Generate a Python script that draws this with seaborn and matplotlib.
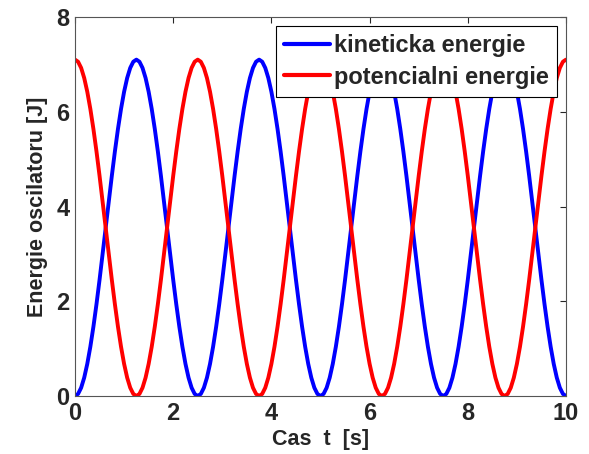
import numpy as np
import pandas as pd
import seaborn as sns
import matplotlib
matplotlib.use("Agg")
import matplotlib.pyplot as plt

# one period (2.5 s) of kinetic energy samples, step 0.0625 s
kin_period = [0.0, 0.044, 0.174, 0.387, 0.678, 1.040, 1.463, 1.938, 2.453, 2.995,
              3.55, 4.105, 4.647, 5.162, 5.637, 6.060, 6.422, 6.713, 6.926, 7.056,
              7.1, 7.056, 6.926, 6.713, 6.422, 6.060, 5.637, 5.162, 4.647, 4.105,
              3.55, 2.995, 2.453, 1.938, 1.463, 1.040, 0.678, 0.387, 0.174, 0.044]
pot_period = [7.1, 7.056, 6.926, 6.713, 6.422, 6.060, 5.637, 5.162, 4.647, 4.105,
              3.55, 2.995, 2.453, 1.938, 1.463, 1.040, 0.678, 0.387, 0.174, 0.044,
              0.0, 0.044, 0.174, 0.387, 0.678, 1.040, 1.463, 1.938, 2.453, 2.995,
              3.55, 4.105, 4.647, 5.162, 5.637, 6.060, 6.422, 6.713, 6.926, 7.056]
n_periods = 4
t_step = 0.0625
labels = ["kineticka energie", "potencialni energie"]
colors = ["#0000ff", "#ff0000"]
x_ticks = [0, 2, 4, 6, 8, 10]
y_ticks = [0, 2, 4, 6, 8]

kin = list(np.tile(kin_period, n_periods)) + [kin_period[0]]
pot = list(np.tile(pot_period, n_periods)) + [pot_period[0]]
t = np.arange(len(kin)) * t_step

df = pd.DataFrame({
    "t": np.concatenate([t, t]),
    "E": np.concatenate([kin, pot]),
    "series": [labels[0]] * len(t) + [labels[1]] * len(t),
})

sns.set_style("white")
plt.rcParams['font.family'] = ['Liberation Sans', 'DejaVu Sans']
plt.rcParams['font.weight'] = 'bold'

fig = plt.figure(figsize=(5.89, 4.54), dpi=100)
ax = fig.add_axes([75/589, 1 - 396/454, (566-75)/589, (396-17)/454])
sns.lineplot(data=df, x="t", y="E", hue="series", palette=colors,
             linewidth=2.8, ax=ax, legend=True)
ax.set_xlim(0, 10)
ax.set_ylim(0, 8)
ax.set_xticks(x_ticks)
ax.set_yticks(y_ticks)
ax.tick_params(direction='in', top=True, right=True, length=4, labelsize=17,
               width=0.8, pad=4)
for lab in ax.get_xticklabels() + ax.get_yticklabels():
    lab.set_fontweight('bold')
ax.set_xlabel("Cas  t  [s]", fontsize=15.5, fontweight='bold', labelpad=3)
ax.set_ylabel("Energie oscilatoru [J]", fontsize=15.5, fontweight='bold', labelpad=6)
for s in ax.spines.values():
    s.set_color('#555555')
    s.set_linewidth(0.8)
leg = ax.legend(loc='upper right', bbox_to_anchor=(0.9817, 0.976), fontsize=17,
                frameon=True, fancybox=False, edgecolor='black', framealpha=1,
                handlelength=1.95, borderpad=0.34, labelspacing=0.36,
                handletextpad=0.18, borderaxespad=0)
leg.get_frame().set_linewidth(0.8)
for line in leg.get_lines():
    line.set_linewidth(3)
for txt in leg.get_texts():
    txt.set_fontweight('bold')
fig.savefig("out.png", dpi=100)
